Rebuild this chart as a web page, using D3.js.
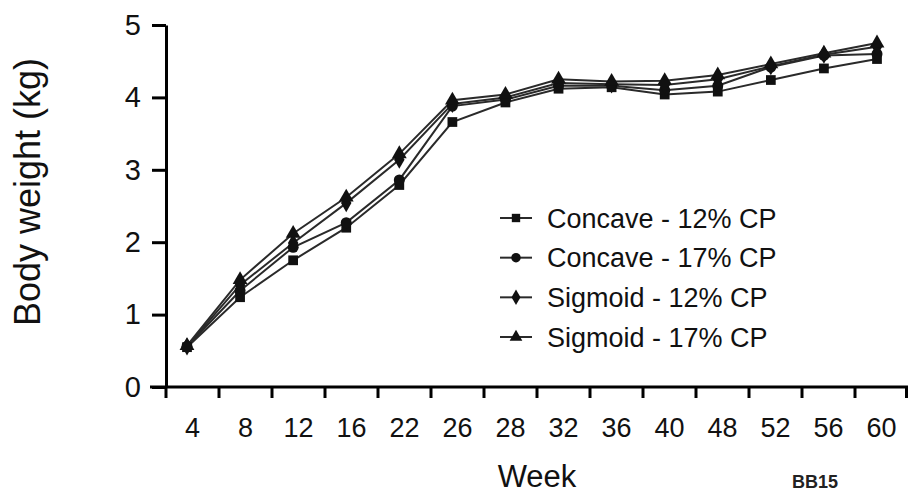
<!DOCTYPE html>
<html>
<head>
<meta charset="utf-8">
<script src="https://cdn.jsdelivr.net/npm/d3@7"></script>
<style>
  body { margin: 0; background: #fff; }
  svg { display: block; font-family: "Liberation Sans", Arial, sans-serif; }
</style>
</head>
<body>
<script>
// weeks on the x axis (categorical, not evenly spaced)
var weeks = ["4", "8", "12", "16", "22", "26", "28", "32", "36", "40", "48", "52", "56", "60"]

var seriesNames = ["Concave - 12% CP", "Concave - 17% CP", "Sigmoid - 12% CP", "Sigmoid - 17% CP"]

// body weight (kg)
var concave12 = [0.55, 1.24, 1.75, 2.20, 2.79, 3.66, 3.93, 4.12, 4.14, 4.04, 4.08, 4.24, 4.40, 4.53]
var concave17 = [0.56, 1.33, 1.93, 2.27, 2.86, 3.88, 3.97, 4.16, 4.16, 4.10, 4.16, 4.42, 4.58, 4.60]
var sigmoid12 = [0.56, 1.41, 1.99, 2.54, 3.14, 3.91, 4.00, 4.20, 4.18, 4.17, 4.25, 4.43, 4.59, 4.70]
var sigmoid17 = [0.57, 1.48, 2.12, 2.62, 3.22, 3.96, 4.04, 4.25, 4.22, 4.23, 4.31, 4.46, 4.61, 4.75]

var yTicks = [0, 1, 2, 3, 4, 5]

var allSeries = [concave12, concave17, sigmoid12, sigmoid17]
var symbols = [d3.symbolSquare, d3.symbolCircle, d3.symbolDiamond, d3.symbolTriangle]

var width = 911, height = 494

var svg = d3.select("body").append("svg")
  .attr("width", width)
  .attr("height", height)

// axis bands (labels sit in the middle of each band)
var xBand = d3.scaleBand().domain(weeks).range([166, 908])
// the plotted points sit a little left of the band centres
var xPoint = d3.scalePoint().domain(weeks).range([187, 877])
var y = d3.scaleLinear().domain([0, 5]).range([387, 25])

// x axis
var xAxis = svg.append("g")
  .attr("transform", "translate(0," + y(0) + ")")
  .call(d3.axisBottom(xBand).tickSize(11).tickSizeOuter(0).tickPadding(20))

xAxis.select(".domain").attr("stroke-width", 3).attr("d", "M150,0H908")
xAxis.selectAll(".tick line")
  .attr("stroke-width", 3)
  .attr("transform", "translate(" + (-xBand.bandwidth() / 2) + ",0)")
xAxis.append("line")
  .attr("x1", xBand.range()[1] - 1.5).attr("x2", xBand.range()[1] - 1.5)
  .attr("y1", 0).attr("y2", 11)
  .attr("stroke", "#000").attr("stroke-width", 3)
xAxis.selectAll(".tick text")
  .attr("font-size", 27)
  .attr("font-family", "Liberation Sans, Arial, sans-serif")
  .attr("fill", "#111")

// y axis
var yAxis = svg.append("g")
  .attr("transform", "translate(" + xBand.range()[0] + ",0)")
  .call(d3.axisLeft(y).tickValues(yTicks).tickFormat(d3.format("d"))
    .tickSize(14).tickSizeOuter(0).tickPadding(11))

yAxis.select(".domain").attr("stroke-width", 3)
yAxis.selectAll(".tick line").attr("stroke-width", 3)
yAxis.selectAll(".tick text")
  .attr("font-size", 29)
  .attr("font-family", "Liberation Sans, Arial, sans-serif")
  .attr("fill", "#111")

// lines
var line = d3.line()
  .x(function(d, i) { return xPoint(weeks[i]) })
  .y(function(d) { return y(d) })

allSeries.forEach(function(s, k)
{
  svg.append("path")
    .datum(s)
    .attr("d", line)
    .attr("fill", "none")
    .attr("stroke", "#2a2a2a")
    .attr("stroke-width", 2)
})

allSeries.forEach(function(s, k)
{
  svg.selectAll(".m" + k)
    .data(s)
    .enter()
    .append("path")
    .attr("class", "m" + k)
    .attr("transform", function(d, i) { return "translate(" + xPoint(weeks[i]) + "," + y(d) + ")" })
    .attr("d", d3.symbol().type(symbols[k]).size(95))
    .attr("fill", "#111")
})

// legend
var legend = svg.append("g")
var legendY = d3.scalePoint().domain(seriesNames).range([218, 337])

seriesNames.forEach(function(name, k)
{
  var row = legend.append("g").attr("transform", "translate(0," + legendY(name) + ")")
  row.append("line")
    .attr("x1", 500).attr("x2", 532)
    .attr("stroke", "#2a2a2a").attr("stroke-width", 2)
  row.append("path")
    .attr("transform", "translate(516,0)")
    .attr("d", d3.symbol().type(symbols[k]).size(70))
    .attr("fill", "#111")
  row.append("text")
    .attr("x", 547)
    .attr("dy", "0.36em")
    .attr("font-size", 27)
    .attr("fill", "#111")
    .text(name)
})

// axis titles
svg.append("text")
  .attr("x", 537).attr("y", 487)
  .attr("text-anchor", "middle")
  .attr("font-size", 31)
  .attr("fill", "#111")
  .text("Week")

svg.append("text")
  .attr("transform", "translate(40,192) rotate(-90)")
  .attr("text-anchor", "middle")
  .attr("font-size", 36)
  .attr("fill", "#111")
  .text("Body weight (kg)")

svg.append("text")
  .attr("x", 815).attr("y", 488)
  .attr("text-anchor", "middle")
  .attr("font-size", 18)
  .attr("font-weight", "bold")
  .attr("fill", "#222")
  .text("BB15")
</script>
</body>
</html>
